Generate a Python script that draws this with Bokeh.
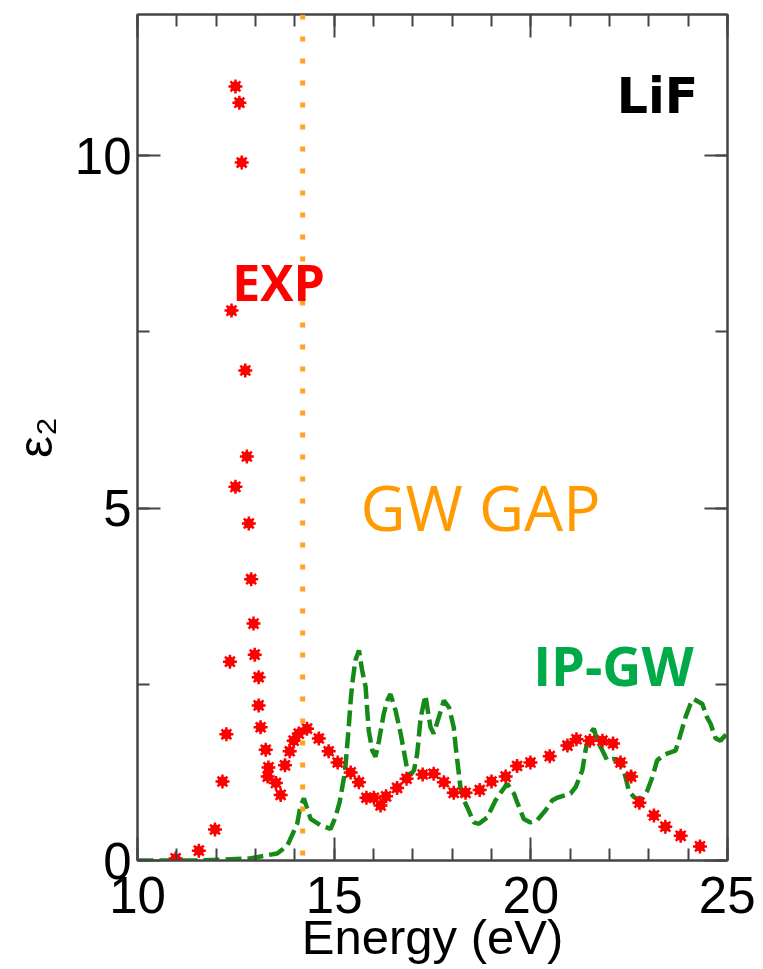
from bokeh.plotting import figure
from bokeh.models import LinearAxis, Range1d, Label, Span, FixedTicker
from bokeh.embed import file_html
from bokeh.resources import INLINE

# ---------------- data ----------------
exp_energy = [10.97, 11.56, 11.97, 12.16, 12.26, 12.35, 12.39, 12.49, 12.59, 12.65,
              12.49, 12.74, 12.78, 12.83, 12.89, 12.95, 12.98, 13.08, 13.08, 13.13,
              13.26, 13.33, 13.31, 13.52, 13.64, 13.75, 13.87, 13.97, 14.10, 14.31,
              14.61, 14.86, 15.09, 15.42, 15.63, 15.82, 16.01, 16.18, 16.32, 16.60,
              16.84, 17.25, 17.53, 17.79, 18.04, 18.34, 18.70, 19.00, 19.36, 19.65,
              19.99, 20.48, 20.93, 21.16, 21.50, 21.82, 22.09, 22.28, 22.55, 22.76,
              23.13, 23.42, 23.81, 24.30]
exp_eps2 = [0.03, 0.14, 0.44, 1.12, 1.79, 2.82, 7.80, 10.98, 10.75, 9.90,
            5.30, 6.95, 5.73, 4.78, 3.99, 3.36, 2.92, 2.60, 2.20, 1.89,
            1.57, 1.32, 1.19, 1.10, 0.93, 1.35, 1.55, 1.70, 1.80, 1.87,
            1.73, 1.55, 1.39, 1.25, 1.11, 0.89, 0.89, 0.78, 0.91, 1.03,
            1.16, 1.22, 1.23, 1.11, 0.96, 0.96, 1.00, 1.12, 1.19, 1.34,
            1.39, 1.48, 1.63, 1.72, 1.70, 1.70, 1.66, 1.39, 1.19, 0.82,
            0.64, 0.48, 0.35, 0.20]

ipgw_energy = [10.0, 11.6, 12.87, 13.25, 13.55, 13.81, 14.06, 14.14, 14.23, 14.40,
               14.65, 14.91, 15.03, 15.14, 15.25, 15.29, 15.37, 15.42, 15.46, 15.54,
               15.63, 15.71, 15.80, 15.84, 15.88, 15.97, 16.05, 16.14, 16.26, 16.35,
               16.43, 16.56, 16.69, 16.77, 16.86, 16.94, 17.03, 17.11, 17.20, 17.32,
               17.45, 17.53, 17.66, 17.79, 17.92, 18.04, 18.09, 18.13, 18.21, 18.30,
               18.38, 18.55, 18.68, 18.89, 19.10, 19.27, 19.40, 19.57, 19.65, 19.82,
               19.99, 20.16, 20.37, 20.54, 20.67, 21.01, 21.14, 21.31, 21.39, 21.47,
               21.60, 21.69, 21.82, 21.94, 22.11, 22.28, 22.41, 22.49, 22.62, 22.79,
               22.96, 23.09, 23.21, 23.42, 23.68, 23.76, 23.93, 24.06, 24.14, 24.36,
               24.48, 24.57, 24.70, 24.82, 24.99]
ipgw_eps2 = [0.0, 0.0, 0.03, 0.07, 0.10, 0.21, 0.52, 0.76, 0.88, 0.59,
             0.50, 0.45, 0.61, 0.83, 1.18, 1.35, 1.89, 2.27, 2.51, 2.84,
             2.98, 2.70, 2.46, 2.13, 1.84, 1.56, 1.47, 1.70, 2.08, 2.27,
             2.36, 2.13, 1.80, 1.56, 1.28, 1.21, 1.28, 1.51, 2.03, 2.34,
             1.89, 1.80, 2.03, 2.27, 2.17, 1.89, 1.61, 1.42, 1.04, 0.85,
             0.76, 0.54, 0.52, 0.61, 0.85, 0.99, 1.09, 0.95, 0.83, 0.59,
             0.54, 0.57, 0.71, 0.85, 0.89, 0.95, 1.04, 1.28, 1.56, 1.77,
             1.87, 1.70, 1.56, 1.42, 1.44, 1.42, 1.18, 0.99, 0.90, 0.85,
             0.99, 1.18, 1.42, 1.51, 1.56, 1.70, 2.03, 2.22, 2.29, 2.22,
             2.03, 1.94, 1.73, 1.70, 1.80]

gw_gap_energy = 14.2

x_major = [10, 15, 20, 25]
x_minor = list(range(10, 26))
y_major = [0, 5, 10]
y_minor = [0, 2.5, 5, 7.5, 10, 12.5]

# ---------------- figure ----------------
p = figure(width=755, height=969, x_range=Range1d(10, 25), y_range=Range1d(0, 12),
           output_backend="svg", toolbar_location=None,
           min_border_left=137, min_border_right=28, min_border_top=14, min_border_bottom=109)
p.grid.visible = False
p.background_fill_color = "white"
p.border_fill_color = "white"
p.outline_line_color = "#444444"
p.outline_line_width = 2

AX = "#444444"
FONT = "Liberation Sans"

def style_axis(ax, labels=True):
    ax.axis_line_color = AX
    ax.axis_line_width = 2
    ax.major_tick_line_color = AX
    ax.major_tick_line_width = 2
    ax.minor_tick_line_color = AX
    ax.minor_tick_line_width = 2
    ax.major_tick_in = 23
    ax.major_tick_out = 0
    ax.minor_tick_in = 12
    ax.minor_tick_out = 0
    if labels:
        ax.major_label_text_font = FONT
        ax.major_label_text_font_size = "51px"
        ax.major_label_text_color = "black"
    else:
        ax.major_label_text_font_size = "2px"
        ax.major_label_text_color = None
        ax.major_label_standoff = 0

p.xaxis.ticker = FixedTicker(ticks=x_major, minor_ticks=x_minor)
p.yaxis.ticker = FixedTicker(ticks=y_major, minor_ticks=y_minor)
style_axis(p.xaxis[0])
style_axis(p.yaxis[0])
p.xaxis.major_label_standoff = 16
p.yaxis.major_label_standoff = 6
p.xaxis.axis_label = "Energy (eV)"
p.yaxis.axis_label = "ε₂"
for ax in (p.xaxis[0], p.yaxis[0]):
    ax.axis_label_text_font = FONT
    ax.axis_label_text_font_size = "49px"
    ax.axis_label_text_font_style = "normal"
    ax.axis_label_text_color = "black"
p.xaxis.axis_label_standoff = -6
p.yaxis.axis_label_standoff = 10

top_ax = LinearAxis(ticker=FixedTicker(ticks=x_major, minor_ticks=x_minor))
right_ax = LinearAxis(ticker=FixedTicker(ticks=y_major, minor_ticks=y_minor))
style_axis(top_ax, labels=False)
style_axis(right_ax, labels=False)
top_ax.major_label_overrides = {t: "" for t in x_major}
right_ax.major_label_overrides = {t: "" for t in y_major}
p.add_layout(top_ax, "above")
p.add_layout(right_ax, "right")

# GW gap line
p.add_layout(Span(location=gw_gap_energy, dimension="height", line_color="#FFA31A",
                  line_width=5, line_dash="5 17"))

# IP-GW curve
p.line(ipgw_energy, ipgw_eps2, line_color="#168A16", line_width=4.5, line_dash="16 6")

# EXP points
p.scatter(exp_energy, exp_eps2, marker="circle", size=10, fill_color="#FF0000", line_color=None)
p.scatter(exp_energy, exp_eps2, marker="asterisk", size=14, line_color="#FF0000", line_width=2.5)

# labels
p.add_layout(Label(x=13.585, y=8.21, text="EXP", text_color="#FF0000", text_font="Open Sans",
                   text_font_style="bold", text_font_size="50px", text_align="center",
                   text_baseline="middle"))
p.add_layout(Label(x=18.72, y=5.01, text="GW GAP", text_color="#FF9A00", text_font="Open Sans",
                   text_font_size="62px", text_align="center", text_baseline="middle"))
p.add_layout(Label(x=22.10, y=2.77, text="IP-GW", text_color="#00AA48", text_font="Open Sans",
                   text_font_style="bold", text_font_size="54px", text_align="center",
                   text_baseline="middle"))
p.add_layout(Label(x=23.22, y=10.84, text="LiF", text_color="black", text_font="DejaVu Sans",
                   text_font_style="bold", text_font_size="49px", text_align="center",
                   text_baseline="middle"))

open("out.html", "w").write(file_html(p, INLINE))
